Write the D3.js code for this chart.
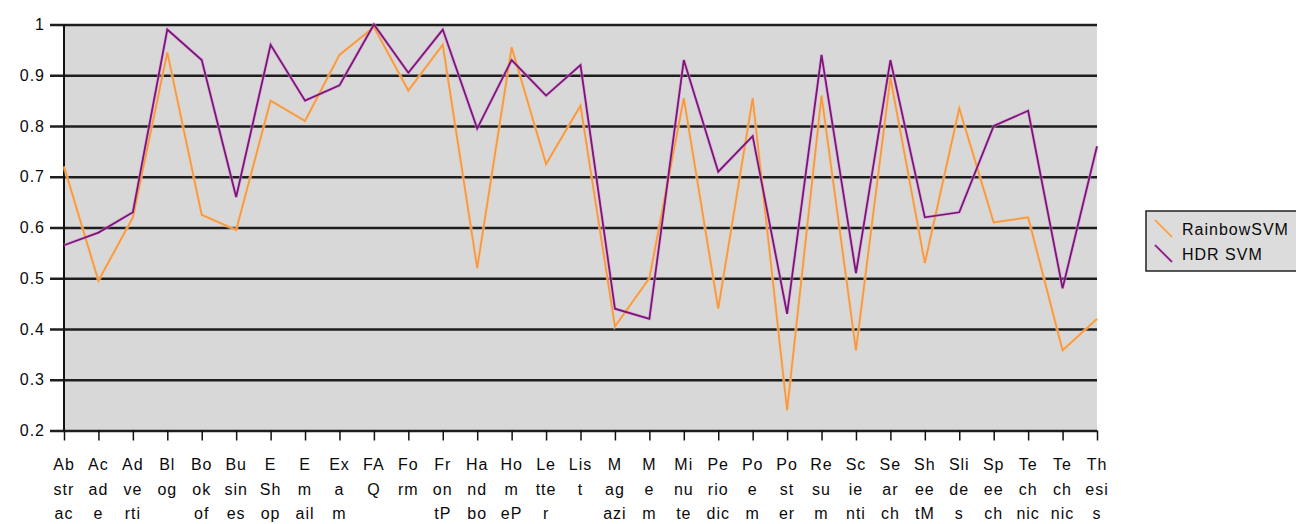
<!DOCTYPE html>
<html>
<head>
<meta charset="utf-8">
<script src="https://cdn.jsdelivr.net/npm/d3@7/dist/d3.min.js"></script>
<style>
  html, body { margin: 0; padding: 0; background: #fff; }
  svg { display: block; }
  text { font-family: "Liberation Sans", Arial, sans-serif; fill: #0a0a0a; letter-spacing: 1px; }
</style>
</head>
<body>
<svg id="chart" width="1296" height="524"></svg>
<script>
// Category labels, wrapped into up to three short lines each
const categoryLines = [
  ["Ab", "str", "ac"], ["Ac", "ad", "e"], ["Ad", "ve", "rti"], ["Bl", "og"],
  ["Bo", "ok", "of"], ["Bu", "sin", "es"], ["E", "Sh", "op"], ["E", "m", "ail"],
  ["Ex", "a", "m"], ["FA", "Q"], ["Fo", "rm"], ["Fr", "on", "tP"],
  ["Ha", "nd", "bo"], ["Ho", "m", "eP"], ["Le", "tte", "r"], ["Lis", "t"],
  ["M", "ag", "azi"], ["M", "e", "m"], ["Mi", "nu", "te"], ["Pe", "rio", "dic"],
  ["Po", "e", "m"], ["Po", "st", "er"], ["Re", "su", "m"], ["Sc", "ie", "nti"],
  ["Se", "ar", "ch"], ["Sh", "ee", "tM"], ["Sli", "de", "s"], ["Sp", "ee", "ch"],
  ["Te", "ch", "nic"], ["Te", "ch", "nic"], ["Th", "esi", "s"]
];
const categories = categoryLines.map((l, i) => i + ":" + l.join(""));

const rainbowSVM = [
  0.72, 0.495, 0.62, 0.945, 0.625, 0.595, 0.85, 0.81, 0.94, 0.995, 0.87, 0.96,
  0.52, 0.955, 0.725, 0.84, 0.405, 0.50, 0.855, 0.44, 0.855, 0.24, 0.86, 0.358,
  0.895, 0.53, 0.835, 0.61, 0.62, 0.358, 0.42
];
const hdrSVM = [
  0.565, 0.59, 0.63, 0.99, 0.93, 0.66, 0.96, 0.85, 0.88, 1.0, 0.905, 0.99,
  0.795, 0.93, 0.86, 0.92, 0.44, 0.42, 0.93, 0.71, 0.78, 0.43, 0.94, 0.51,
  0.93, 0.62, 0.63, 0.80, 0.83, 0.48, 0.76
];
const yTicks = [0.2, 0.3, 0.4, 0.5, 0.6, 0.7, 0.8, 0.9, 1.0];
const seriesNames = ["RainbowSVM", "HDR SVM"];

const series = [
  { name: seriesNames[0], values: rainbowSVM, color: "#f49a45", halo: "#fbc98f" },
  { name: seriesNames[1], values: hdrSVM, color: "#7a1676", halo: "#e291e0" }
];

const svg = d3.select("#chart");
const plot = { left: 64, right: 1097, top: 24.5, bottom: 430.5 };

const x = d3.scalePoint().domain(categories).range([plot.left, plot.right]);
const y = d3.scaleLinear().domain([0.2, 1]).range([plot.bottom, plot.top]);

// Plot area background
svg.append("rect")
  .attr("x", plot.left).attr("y", plot.top)
  .attr("width", plot.right - plot.left).attr("height", plot.bottom - plot.top)
  .attr("fill", "#d8d8d8");

// Horizontal gridlines with y labels
const yAxis = d3.axisLeft(y)
  .tickValues(yTicks)
  .tickSize(-(plot.right - plot.left))
  .tickPadding(6)
  .tickFormat(d => d === 1 ? "1" : d.toFixed(1));
const gy = svg.append("g")
  .attr("transform", `translate(${plot.left},0)`)
  .call(yAxis);
gy.select(".domain").remove();
gy.selectAll(".tick line")
  .attr("x1", -14)
  .attr("stroke", "#1e1e1e").attr("stroke-width", 2.5);
gy.selectAll(".tick text")
  .attr("x", -19)
  .style("font-size", "16px")
  .style("font-family", "'Liberation Sans', Arial, sans-serif")
  .attr("fill", "#0a0a0a");

// Left axis line
svg.append("line")
  .attr("x1", plot.left).attr("x2", plot.left)
  .attr("y1", plot.top).attr("y2", plot.bottom + 1)
  .attr("stroke", "#111").attr("stroke-width", 2);

// Bottom axis with category ticks
const gx = svg.append("g")
  .attr("transform", `translate(0,${plot.bottom})`)
  .call(d3.axisBottom(x).tickSize(10).tickFormat(""));
gx.select(".domain").remove();
gx.selectAll(".tick line").attr("stroke", "#111").attr("stroke-width", 1.5);

// Wrapped category labels
const labelG = svg.append("g");
categories.forEach((c, i) => {
  const t = labelG.append("text")
    .attr("text-anchor", "middle")
    .attr("x", x(c))
    .style("font-size", "16px");
  categoryLines[i].forEach((line, k) => {
    t.append("tspan").attr("x", x(c)).attr("y", 470 + k * 24.5).text(line);
  });
  const bb = t.node().getBBox();
  if (bb.x < 48) {
    const dx = 48 - bb.x;
    t.selectAll("tspan").attr("x", x(c) + dx);
  }
});

// Data lines
const line = d3.line()
  .x((d, i) => x(categories[i]))
  .y(d => y(d));

series.forEach(s => {
  svg.append("path")
    .datum(s.values)
    .attr("d", line)
    .attr("fill", "none")
    .attr("stroke", s.halo)
    .attr("stroke-width", 3.4)
    .attr("stroke-opacity", 0.55)
    .attr("stroke-linejoin", "miter");
});
series.forEach(s => {
  svg.append("path")
    .datum(s.values)
    .attr("d", line)
    .attr("fill", "none")
    .attr("stroke", s.color)
    .attr("stroke-width", 1.8)
    .attr("stroke-linejoin", "miter");
});

// Legend
const legend = svg.append("g");
legend.append("rect")
  .attr("x", 1146).attr("y", 211)
  .attr("width", 170).attr("height", 60)
  .attr("fill", "#dcdcdc")
  .attr("stroke", "#222").attr("stroke-width", 1.5);

series.forEach((s, i) => {
  const cy = 229 + i * 25;
  legend.append("line")
    .attr("x1", 1155).attr("y1", cy - 9)
    .attr("x2", 1172).attr("y2", cy + 8)
    .attr("stroke", s.halo).attr("stroke-width", 3).attr("stroke-opacity", 0.6);
  legend.append("line")
    .attr("x1", 1155).attr("y1", cy - 9)
    .attr("x2", 1172).attr("y2", cy + 8)
    .attr("stroke", s.color).attr("stroke-width", 1.5);
  legend.append("text")
    .attr("x", 1182).attr("y", cy + 6)
    .style("font-size", "16px")
    .text(s.name);
});
</script>
</body>
</html>
